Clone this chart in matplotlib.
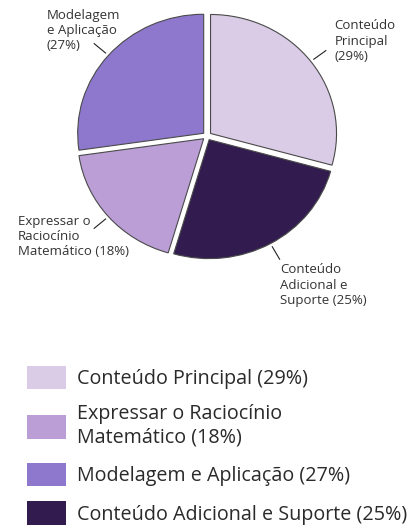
import numpy as np
import matplotlib.pyplot as plt
from matplotlib.patches import Patch

plt.rcParams['font.family'] = ['Open Sans', 'DejaVu Sans']

# pie order (clockwise from top)
names = ['Conteúdo Principal', 'Conteúdo Adicional e Suporte',
         'Expressar o Raciocínio Matemático', 'Modelagem e Aplicação']
values = [29, 25, 18, 27]
colors = ['#dacbe6', '#321c4f', '#bb9ed6', '#8e78ce']
pie_labels = ['Conteúdo\nPrincipal\n(29%)',
              'Conteúdo\nAdicional e\nSuporte (25%)',
              'Expressar o\nRaciocínio\nMatemático (18%)',
              'Modelagem\ne Aplicação\n(27%)']
# text anchor (data coords, top-left) for each label
label_pos = [(1.01, 0.98), (0.58, -1.07), (-1.50, -0.66), (-1.27, 1.07)]

# legend order
legend_order = [0, 2, 3, 1]
legend_labels = ['Conteúdo Principal (29%)',
                 'Expressar o Raciocínio\nMatemático (18%)',
                 'Modelagem e Aplicação (27%)',
                 'Conteúdo Adicional e Suporte (25%)']

fig = plt.figure(figsize=(4.11, 5.27), dpi=100)
ax = fig.add_axes([0.1358, 0.471, 0.7358, 0.5419])

expl = 0.035
wedges, _ = ax.pie(values, colors=colors, startangle=90, counterclock=False,
                   explode=[expl] * 4,
                   wedgeprops=dict(edgecolor='#4a4a4a', linewidth=0.8))
ax.set_aspect('auto')
ax.set_xlim(-1.2, 1.2)
ax.set_ylim(-1.2, 1.2)

for w, lab, (tx, ty) in zip(wedges, pie_labels, label_pos):
    mid = np.deg2rad((w.theta1 + w.theta2) / 2)
    cx, cy = w.center
    r = np.array([1.03, 1.15])
    ax.plot(cx + r * np.cos(mid), cy + r * np.sin(mid), color='#222222',
            lw=0.8, clip_on=False)
    ax.text(tx, ty, lab, ha='left', va='top', fontsize=9.5, color='#333333',
            linespacing=1.22)

handles = [Patch(facecolor=colors[i], edgecolor='none') for i in legend_order]
leg = fig.legend(handles, legend_labels, loc='upper left',
                 bbox_to_anchor=(0.0657, 0.306), frameon=False, fontsize=14.2,
                 handlelength=1.98, handleheight=1.47, handletextpad=0.56,
                 labelspacing=0.76, borderpad=0, borderaxespad=0,
                 labelcolor='#2a2a2a')
for t in leg.get_texts():
    t.set_linespacing(1.22)

fig.savefig('out.png', dpi=100)
